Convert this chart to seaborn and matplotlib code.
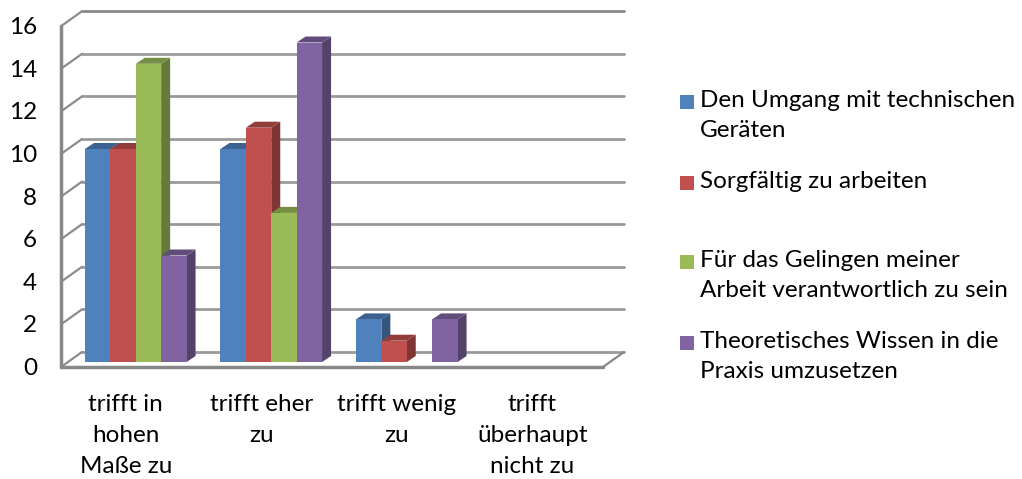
import numpy as np
import pandas as pd
import matplotlib
import matplotlib.pyplot as plt
import seaborn as sns
from matplotlib.patches import Polygon, Rectangle
from matplotlib.colors import to_rgb

categories = ["trifft in\nhohen\nMaße zu", "trifft eher\nzu", "trifft wenig\nzu",
              "trifft\nüberhaupt\nnicht zu"]
series_names = ["Den Umgang mit technischen\nGeräten",
                "Sorgfältig zu arbeiten",
                "Für das Gelingen meiner\nArbeit verantwortlich zu sein",
                "Theoretisches Wissen in die\nPraxis umzusetzen"]
umgang = [10, 10, 2, 0]
sorgfalt = [10, 11, 1, 0]
gelingen = [14, 7, 0, 0]
theorie = [5, 15, 2, 0]
colors = ["#4F81BD", "#C0504D", "#9BBB59", "#8064A2"]
y_ticks = [0, 2, 4, 6, 8, 10, 12, 14, 16]

rows = []
for name, vals in zip(series_names, [umgang, sorgfalt, gelingen, theorie]):
    for cat, v in zip(categories, vals):
        rows.append({"kategorie": cat, "reihe": name, "wert": v})
df = pd.DataFrame(rows)

sns.set_style("white")
plt.rcParams['font.family'] = ['Lato', 'DejaVu Sans']
fs = 17.5

W, H = 1022, 479
fig = plt.figure(figsize=(W / 100, H / 100), dpi=100)
ax_w, ax_h = 542, 340.8
ax = fig.add_axes([68 / W, 117 / H, ax_w / W, ax_h / H])
sns.barplot(data=df, x="kategorie", y="wert", hue="reihe", order=categories,
            hue_order=series_names, palette=colors, saturation=1, width=0.75,
            edgecolor="none", linewidth=0, legend=False, ax=ax)
ax.set_xlim(-0.5, 3.5)
ax.set_ylim(0, 16)
ax.set_axis_off()

# pixel -> data units
kx = ax_w / 4
ky = ax_h / 16
bx, by = 14 / kx, 10 / ky      # back wall
fx, fy = -7 / kx, -5 / ky      # front edge
ddx, ddy = 9 / kx, 6 / ky      # bar depth

grid_c = "#9a9a9a"
for v in y_ticks:
    c = "#888888" if v == y_ticks[-1] else grid_c
    ax.plot([-0.5 + bx, 3.5 + bx], [v + by, v + by], color=c, lw=2, zorder=0.5, clip_on=False)
    ax.plot([-0.5 + fx, -0.5 + bx], [v + fy, v + by], color="#8c8c8c", lw=1.6,
            zorder=0.5, clip_on=False)
    ax.text(-0.5 + fx - 24 / kx, v + fy - 1.5 / ky, str(v), ha="right", va="center",
            fontsize=fs, color="#000000")
ax.plot([-0.5 + fx, -0.5 + fx], [fy, 16 + fy], color="#888888", lw=2.5, zorder=0.6, clip_on=False)
ax.plot([-0.5 + fx, 3.5 + fx], [fy, fy], color="#888888", lw=2.5, zorder=0.6, clip_on=False)
ax.plot([3.5 + fx, 3.5 + bx], [fy, by], color="#888888", lw=1.6, zorder=0.6, clip_on=False)

# 3d faces on the bars
bars = sorted([p for p in ax.patches], key=lambda p: p.get_x())
for i, p in enumerate(bars):
    x0, w, h = p.get_x(), p.get_width(), p.get_height()
    p.set_zorder(2 + i)
    if h <= 0:
        continue
    base = np.array(to_rgb(p.get_facecolor()))
    side = Polygon([(x0 + w, 0), (x0 + w + ddx, ddy), (x0 + w + ddx, h + ddy), (x0 + w, h)],
                   closed=True, facecolor=base * 0.66, edgecolor="none", zorder=1.5 + i,
                   clip_on=False)
    top = Polygon([(x0, h), (x0 + ddx, h + ddy), (x0 + w + ddx, h + ddy), (x0 + w, h)],
                  closed=True, facecolor=base * 0.76, edgecolor="none", zorder=1.6 + i,
                  clip_on=False)
    ax.add_patch(side)
    ax.add_patch(top)

# category labels
for i, cat in enumerate(categories):
    ax.text(i + fx - 3 / kx, -32 / ky, cat, ha="center", va="top", fontsize=fs,
            linespacing=1.6, color="#000000")

# legend
leg_y = [102, 183, 262, 343]
for name, col, yc in zip(series_names, colors, leg_y):
    fig.patches.append(Rectangle((680 / W, 1 - (yc + 7) / H), 14 / W, 14 / H,
                                 transform=fig.transFigure, facecolor=col, edgecolor="none"))
    fig.text(700 / W, 1 - (yc - 12) / H, name, ha="left", va="top", fontsize=fs,
             linespacing=1.55, color="#000000")

fig.savefig("out.png", dpi=100)
